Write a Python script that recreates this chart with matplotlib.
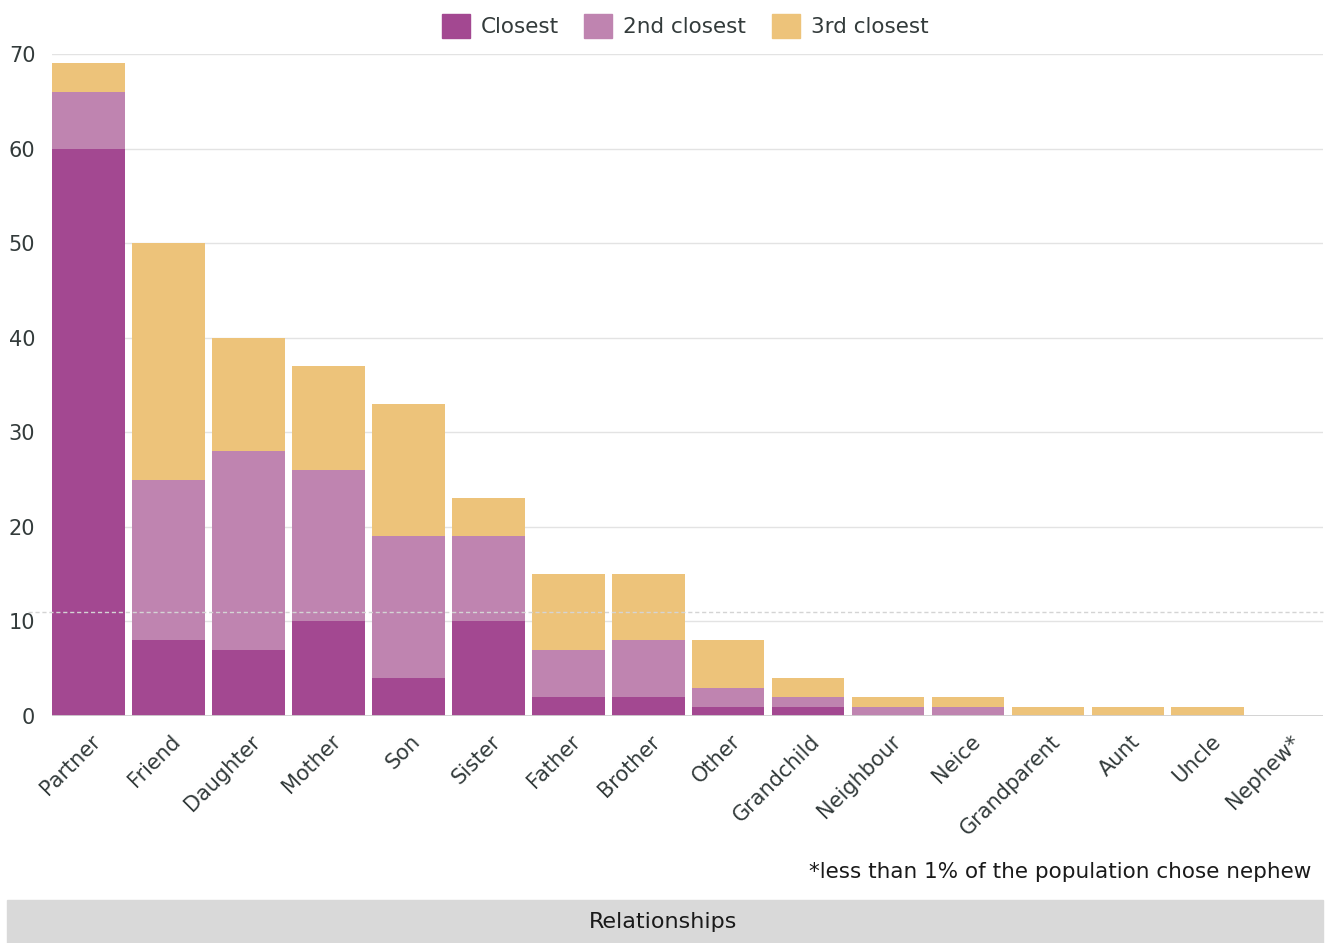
import matplotlib.pyplot as plt
import matplotlib.patches as mpatches
from matplotlib.transforms import ScaledTranslation

relationships = ["Partner", "Friend", "Daughter", "Mother", "Son", "Sister", "Father",
                 "Brother", "Other", "Grandchild", "Neighbour", "Neice", "Grandparent",
                 "Aunt", "Uncle", "Nephew*"]
closest = [60, 8, 7, 10, 4, 10, 2, 2, 1, 1, 0, 0, 0, 0, 0, 0]
second = [6, 17, 21, 16, 15, 9, 5, 6, 2, 1, 1, 1, 0, 0, 0, 0]
third = [3, 25, 12, 11, 14, 4, 8, 7, 5, 2, 1, 1, 1, 1, 1, 0]
average = 11
yticks = [0, 10, 20, 30, 40, 50, 60, 70]

c1, c2, c3 = "#a34891", "#bf84b0", "#edc37a"
txt = "#333b3b"

plt.rcParams['font.family'] = ['DejaVu Sans']

fig = plt.figure(figsize=(13.25, 9.43), dpi=100)
ax = fig.add_axes([52 / 1325, 1 - 716 / 943, (1323 - 52) / 1325, (716 - 54) / 943])

x = list(range(len(relationships)))
bottom2 = closest
bottom3 = [a + b for a, b in zip(closest, second)]
w = 0.91
ax.bar(x, closest, width=w, color=c1, label="Closest", zorder=3)
ax.bar(x, second, width=w, bottom=bottom2, color=c2, label="2nd closest", zorder=3)
ax.bar(x, third, width=w, bottom=bottom3, color=c3, label="3rd closest", zorder=3)

ax.set_xlim(-w / 2, 15.44)
ax.set_ylim(0, 70)
ax.set_yticks(yticks)
ax.grid(axis='y', color="#e3e3e3", linewidth=1, zorder=0)
ax.axhline(0, color="#d0d0d0", linewidth=2, zorder=4)
# dashed average line, extends a bit past the axes on the left
ax.plot([-0.75, 15.44], [average, average], color="#d4d4d4", linestyle=(0, (3, 2)),
        linewidth=1, zorder=5, clip_on=False)

for s in ax.spines.values():
    s.set_visible(False)
ax.tick_params(axis='y', length=0, pad=12, labelsize=15, labelcolor=txt)
ax.tick_params(axis='x', length=0, pad=11, labelsize=15, labelcolor=txt)
ax.set_xticks(x)
ax.set_xticklabels(relationships, rotation=45, ha='right', rotation_mode='anchor')
off = ScaledTranslation(2 / 100, 0, fig.dpi_scale_trans)
for lab in ax.get_xticklabels():
    lab.set_transform(lab.get_transform() + off)

handles = [mpatches.Patch(color=c, label=l) for c, l in
           [(c1, "Closest"), (c2, "2nd closest"), (c3, "3rd closest")]]
fig.legend(handles=handles, loc='center', bbox_to_anchor=(685 / 1325, 1 - 26 / 943), ncol=3,
           frameon=False, fontsize=15.5, handlelength=1.3, handleheight=1.3,
           handletextpad=0.5, columnspacing=1.2, labelcolor=txt)

fig.text(1311 / 1325, 1 - 872 / 943, "*less than 1% of the population chose nephew",
         ha='right', va='center', fontsize=15.5, color="#1a1a1a")

fig.patches.append(mpatches.Rectangle((7 / 1325, 0), (1323 - 7) / 1325, 43 / 943,
                                      transform=fig.transFigure, color="#d9d9d9", zorder=0))
fig.text(663 / 1325, 1 - 922 / 943, "Relationships", ha='center', va='center',
         fontsize=16, color="#1a1a1a")

fig.savefig("out.png", dpi=100)
